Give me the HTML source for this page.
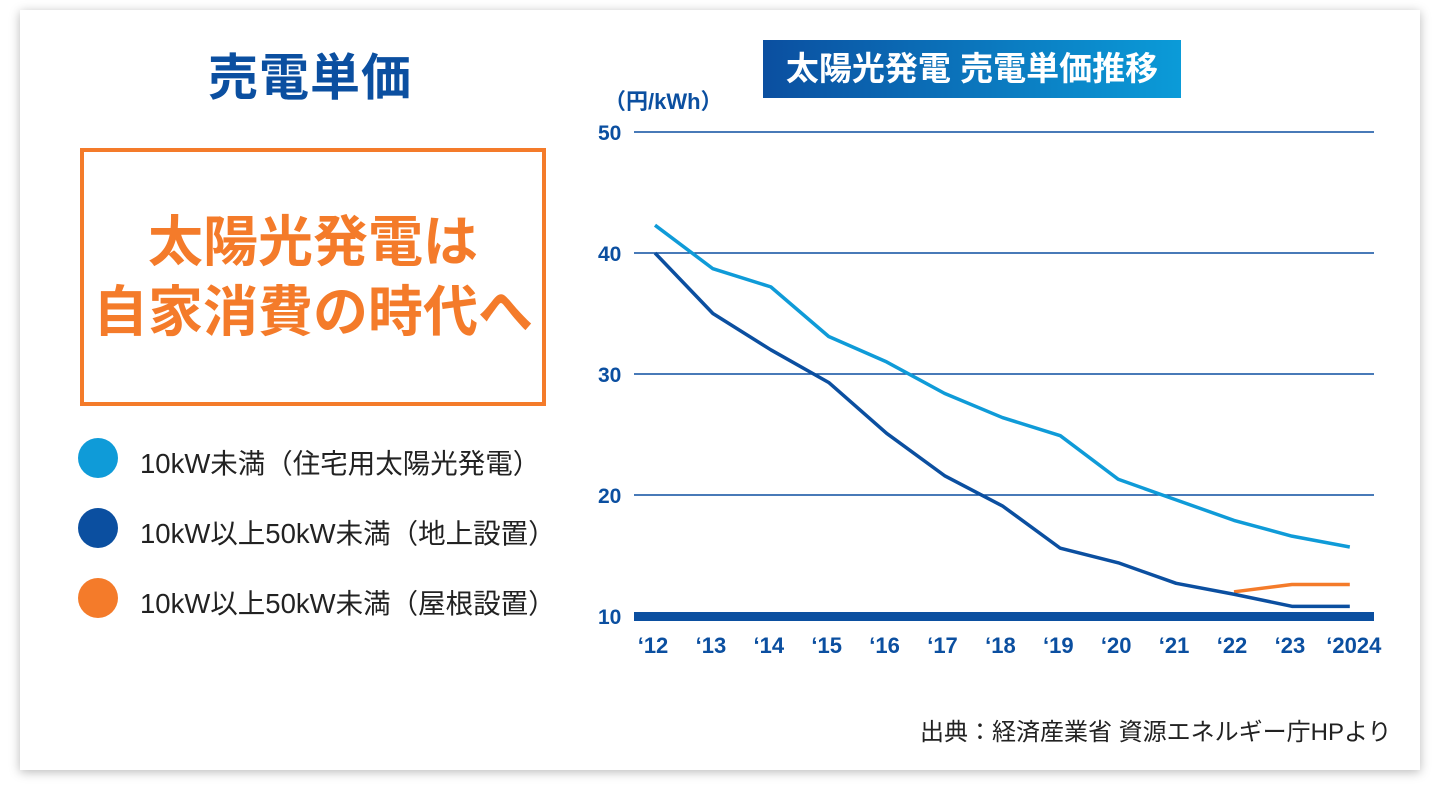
<!DOCTYPE html>
<html><head><meta charset="utf-8"><style>
body{margin:0;width:1440px;height:800px;background:#fff;font-family:"Liberation Sans","Noto Sans CJK JP",sans-serif;overflow:hidden;position:relative}
.card{position:absolute;left:20px;top:10px;width:1400px;height:760px;background:#fff;box-shadow:0 2px 10px rgba(0,0,0,.28)}
.t{position:absolute;white-space:nowrap}
</style></head><body>
<div class="card"></div>
<div class="t" style="left:208px;top:38px;font-size:50px;font-weight:bold;color:#0b4fa0;letter-spacing:1px">売電単価</div>
<div style="position:absolute;left:80px;top:148px;width:458px;height:250px;border:4px solid #f47b2a;box-sizing:content-box"></div>
<div class="t" style="left:84px;top:207px;width:458px;text-align:center;font-size:55px;font-weight:bold;color:#f47b2a;line-height:70px">太陽光発電は<br>自家消費の時代へ</div>
<div>
<div style="position:absolute;left:78px;top:438px;width:40px;height:40px;border-radius:50%;background:#0f9bd8"></div>
<div class="t" style="left:140px;top:441px;font-size:27.5px;color:#222">10kW未満（住宅用太陽光発電）</div>
<div style="position:absolute;left:78px;top:508px;width:40px;height:40px;border-radius:50%;background:#0b4fa0"></div>
<div class="t" style="left:140px;top:511px;font-size:27.5px;color:#222">10kW以上50kW未満（地上設置）</div>
<div style="position:absolute;left:78px;top:578px;width:40px;height:40px;border-radius:50%;background:#f47b2a"></div>
<div class="t" style="left:140px;top:581px;font-size:27.5px;color:#222">10kW以上50kW未満（屋根設置）</div>
</div>
<div class="t" style="left:763px;top:40px;width:418px;height:58px;line-height:58px;text-align:center;font-size:33px;font-weight:bold;color:#fff;background:linear-gradient(90deg,#0b4fa0,#0b9bd8)">太陽光発電 売電単価推移</div>
<div class="t" style="left:920px;top:712px;font-size:24px;color:#222">出典：経済産業省 資源エネルギー庁HPより</div>
<svg id="chart" width="1440" height="800" style="position:absolute;left:0;top:0"></svg>
<script>
const years=["'12","'13","'14","'15","'16","'17","'18","'19","'20","'21","'22","'23","'2024"];
const yTicks=[10,20,30,40,50];
const residential=[42.3,38.7,37.2,33.1,31.0,28.4,26.4,24.9,21.3,19.6,17.9,16.6,15.7];
const ground=[40,35,32,29.3,25.1,21.6,19.1,15.6,14.4,12.7,11.8,10.8,10.8];
const roof=[null,null,null,null,null,null,null,null,null,null,12.0,12.6,12.6];
const svg=document.getElementById('chart');
const NS='http://www.w3.org/2000/svg';
const X=i=>655+i*57.9;
const Y=v=>616-(v-10)*12.1;
function mk(t,a){const e=document.createElementNS(NS,t);for(const k in a)e.setAttribute(k,a[k]);svg.appendChild(e);return e;}
yTicks.forEach(v=>{
 if(v>10){const l=mk('line',{x1:634,x2:1374,y1:Y(v),y2:Y(v),stroke:'#0b4fa0','stroke-width':1.5});
 
 }
 const t=mk('text',{x:598,y:Y(v)+8,'font-size':21,'font-weight':'bold',fill:'#0b4fa0','font-family':'Liberation Sans'});
 t.textContent=v;
 
 
});
const base=mk('rect',{x:634,y:Y(10)-4,width:740,height:9,fill:'#0b4fa0'});


const unit=mk('text',{x:604,y:109,'font-size':22,'font-weight':'bold',fill:'#0b4fa0','font-family':'Liberation Sans, Noto Sans CJK JP, sans-serif'});
unit.textContent='（円/kWh）';


years.forEach((y,i)=>{
 const t=mk('text',{x:X(i)-2+(i==12?6:0),y:653,'font-size':22,'font-weight':'bold',fill:'#0b4fa0','text-anchor':'middle','font-family':'Liberation Sans'});
 t.textContent=y.replace("'","‘");
 
 
});
function line(data,color,name){
 const pts=[];data.forEach((v,i)=>{if(v!=null)pts.push(X(i)+','+Y(v));});
 const p=mk('polyline',{points:pts.join(' '),fill:'none',stroke:color,'stroke-width':3.5,'stroke-linejoin':'round'});
 
 
}
line(roof,'#f47b2a','line-roof');
line(ground,'#0b4fa0','line-ground');
line(residential,'#0f9bd8','line-residential');
</script>
</body></html>
